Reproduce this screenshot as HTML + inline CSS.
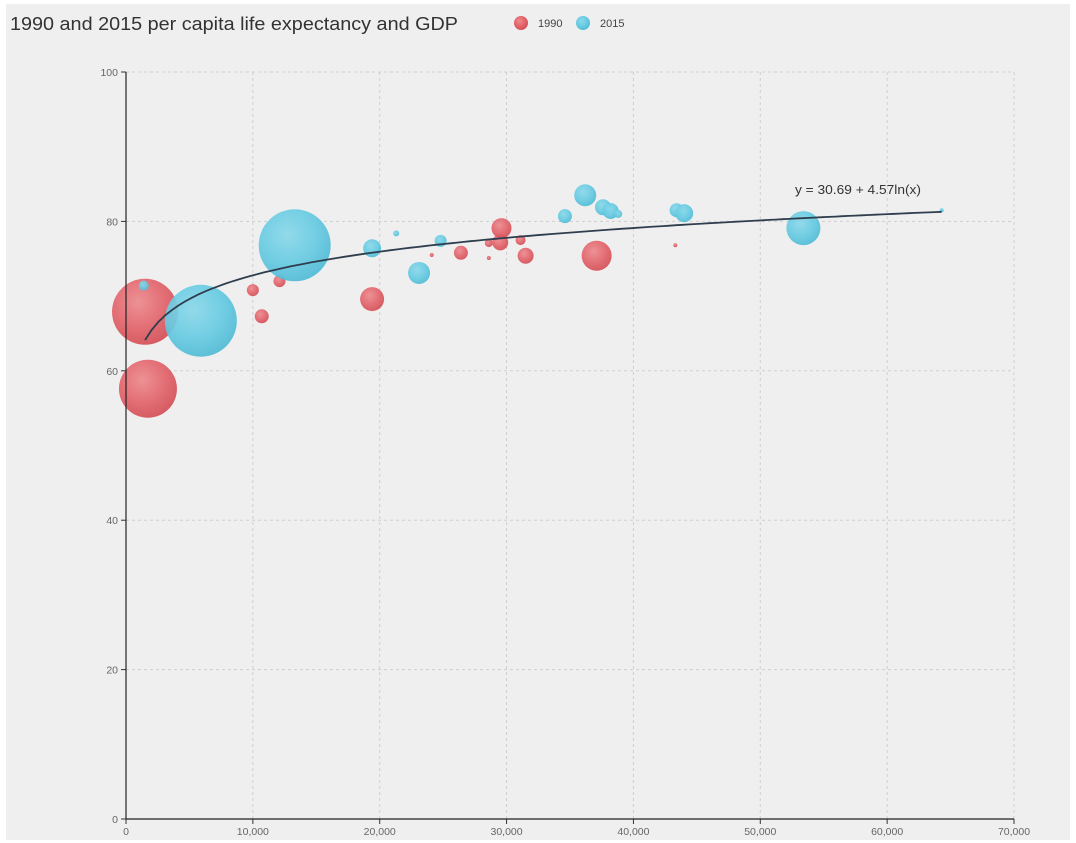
<!DOCTYPE html>
<html><head><meta charset="utf-8"><style>
html,body{margin:0;padding:0;background:#fff;}
svg{display:block;font-family:"Liberation Sans",sans-serif;}
</style></head><body>
<svg id="chart" width="1076" height="843">
<defs>
<radialGradient id="gRed" cx="40%" cy="35%" r="65%">
<stop offset="0" stop-color="#ec8a8e"/><stop offset="0.6" stop-color="#e2646b"/><stop offset="1" stop-color="#d45058"/>
</radialGradient>
<radialGradient id="gBlue" cx="40%" cy="35%" r="65%">
<stop offset="0" stop-color="#8ad8ea"/><stop offset="0.6" stop-color="#68cbe2"/><stop offset="1" stop-color="#52bcd6"/>
</radialGradient>
</defs>
<rect x="6" y="4" width="1064" height="836" fill="#efefef"/>
<text x="10" y="30" font-size="18" fill="#333" textLength="448" lengthAdjust="spacingAndGlyphs">1990 and 2015 per capita life expectancy and GDP</text>
<g>
<circle cx="521" cy="23" r="7" fill="url(#gRed)"/>
<text x="538" y="27" font-size="11" fill="#444">1990</text>
<circle cx="583" cy="23" r="7" fill="url(#gBlue)"/>
<text x="600" y="27" font-size="11" fill="#444">2015</text>
</g>
<g id="grid"></g>
<g id="marks"></g>
<g id="axes"></g>
</svg>
<script>
const xTicks = [0,10000,20000,30000,40000,50000,60000,70000];
const yTicks = [0,20,40,60,80,100];
const red1990X = [1500,1730,10000,10700,12100,19400,24100,26400,28600,28600,29500,29600,31100,31500,37100,43300];
const red1990Y = [67.9,57.6,70.8,67.3,72.0,69.6,75.5,75.8,77.1,75.1,77.2,79.1,77.5,75.4,75.4,76.8];
const red1990Size = [1089,841,36,49,36,144,4,49,16,4,64,100,25,64,225,4];
const blue2015X = [1400,5900,13300,19400,21300,23100,24800,34600,36200,37600,38200,38800,43400,44000,53400,64300];
const blue2015Y = [71.4,66.7,76.8,76.4,78.4,73.1,77.4,80.7,83.5,81.9,81.4,81.0,81.5,81.1,79.1,81.5];
const blue2015Size = [25,1296,1296,81,9,121,36,49,121,64,64,16,49,81,289,4];
const fitA = 30.69, fitB = 4.57, fitStart = 1500, fitEnd = 64300;

const X0=126,X1=1014,Y0=819,Y1=72;
const xs = v => X0 + v/70000*(X1-X0);
const ys = v => Y0 - v/100*(Y0-Y1);
const rs = s => Math.sqrt(s);
const NS="http://www.w3.org/2000/svg";
function mk(tag, attrs, parent){const e=document.createElementNS(NS,tag);for(const k in attrs)e.setAttribute(k,attrs[k]);parent.appendChild(e);return e;}
const grid=document.getElementById('grid'), axes=document.getElementById('axes'), marks=document.getElementById('marks');
xTicks.forEach(t=>{
  if(t>0){const l=mk('line',{x1:xs(t),x2:xs(t),y1:Y1,y2:Y0,stroke:'#cfcfcf','stroke-dasharray':'3,3'},grid);
  
  }
  const tk=mk('line',{x1:xs(t),x2:xs(t),y1:Y0,y2:Y0+5,stroke:'#333'},axes);
  
  
  const tx=mk('text',{x:xs(t),y:Y0+16,'font-size':'10.5','fill':'#666','text-anchor':'middle'},axes);
  tx.textContent=t.toLocaleString('en-US');
  
  
});
yTicks.forEach(t=>{
  if(t>0){const l=mk('line',{x1:X0,x2:X1,y1:ys(t),y2:ys(t),stroke:'#cfcfcf','stroke-dasharray':'3,3'},grid);
  
  }
  const tk=mk('line',{x1:X0-5,x2:X0,y1:ys(t),y2:ys(t),stroke:'#333'},axes);
  
  
  const tx=mk('text',{x:X0-8,y:ys(t)+4,'font-size':'10.5','fill':'#666','text-anchor':'end'},axes);
  tx.textContent=t;
  
  
});
const ya=mk('line',{x1:X0,x2:X0,y1:Y1,y2:Y0,stroke:'#222','stroke-width':'1.2'},axes);


const xa=mk('line',{x1:X0,x2:X1,y1:Y0,y2:Y0,stroke:'#222','stroke-width':'1.2'},axes);



function bubbles(X,Y,S,fill,name){
  X.forEach((x,i)=>{
    const c=mk('circle',{cx:xs(x),cy:ys(Y[i]),r:rs(S[i]),fill:fill,'fill-opacity':'0.92'},marks);
    
    
  });
}
bubbles(red1990X,red1990Y,red1990Size,'url(#gRed)','bubble-1990');
bubbles(blue2015X,blue2015Y,blue2015Size,'url(#gBlue)','bubble-2015');

let d='';
for(let i=0;i<=120;i++){const x=fitStart+(fitEnd-fitStart)*i/120;const y=fitA+fitB*Math.log(x);d+=(i?'L':'M')+xs(x).toFixed(1)+','+ys(y).toFixed(1);}
const p=mk('path',{d:d,fill:'none',stroke:'#2f3e4e','stroke-width':'1.8'},marks);


const eq=mk('text',{x:795,y:194,'font-size':'13','fill':'#333',textLength:'126',lengthAdjust:'spacingAndGlyphs'},marks);
eq.textContent='y = '+fitA+' + '+fitB+'ln(x)';


</script>
</body></html>
